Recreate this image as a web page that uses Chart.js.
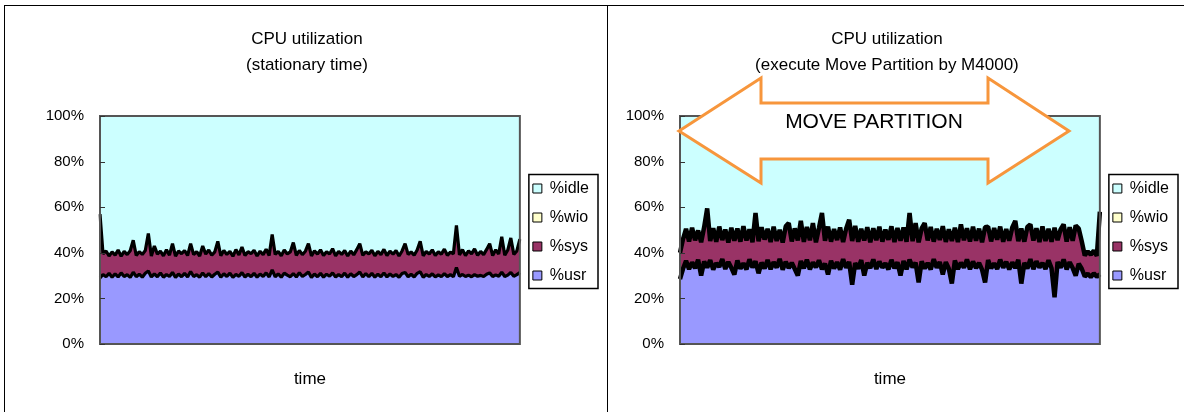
<!DOCTYPE html>
<html>
<head>
<meta charset="utf-8">
<script src="https://cdn.jsdelivr.net/npm/chart.js@4.4.0/dist/chart.umd.min.js"></script>
<style>
  body { margin: 0; background: #fff; width: 1184px; height: 412px; overflow: hidden; position: relative; }
  .frame { position: absolute; left: 4px; top: 5px; width: 1200px; height: 420px; border-top: 1px solid #000; border-left: 1px solid #000; }
  .divider { position: absolute; left: 607px; top: 5px; width: 1px; height: 420px; background: #000; }
  #left { position: absolute; left: 5px; top: 6px; }
  #right { position: absolute; left: 608px; top: 6px; }
</style>
</head>
<body>
<div class="frame"></div>
<div class="divider"></div>
<canvas id="left" width="602" height="406"></canvas>
<canvas id="right" width="576" height="406"></canvas>
<script>
// stationary time: %usr and %sys per sample (%wio stays at 0)
const usrL = [29,30.5,29.5,31,29.3,30.8,29.4,31.2,29.6,30.4,
  29.2,31.5,29.5,30.6,29.3,31,32,29.4,30.8,29.5,
  31.2,29.3,30.5,29.6,31.4,29.2,30.7,29.5,31,29.4,
  31.8,29.6,30.4,29.3,31.2,29.5,30.9,29.4,30.6,31.5,
  29.3,30.8,29.6,31.1,29.2,30.5,29.7,31.3,29.4,30.6,
  29.5,31,29.3,30.7,29.6,31.2,29.4,32.5,29.5,30.8,
  29.3,31.1,30.2,29.5,30.9,29.4,31.3,29.6,30.5,31.6,
  29.2,30.7,29.5,31,29.3,30.6,29.7,31.2,29.4,30.5,
  29.5,31.1,29.3,30.8,29.6,30.4,31.6,29.4,30.9,29.5,
  31,29.3,30.6,29.5,31.2,29.4,30.7,29.6,30.5,29.3,
  30.9,31.4,29.5,30.6,29.4,31,31.7,29.3,30.5,29.6,
  30.8,29.4,30.3,29.5,30.9,29.6,30.4,29.5,33.5,29.7,
  30.5,29.6,30.2,29.5,30.4,29.7,30.1,29.6,30.6,31.2,
  29.6,30.3,29.7,31.5,29.6,30.2,31.4,29.7,30.4,31.3]
const sysL = [28,9,11.3,7.6,11.1,8.2,11.8,7.3,11,8.8,
  11.7,14,9.3,9.9,10,10,16.5,9.2,12.2,9.9,
  9.5,9.4,10.8,9.4,12.6,9.3,10.1,10.1,10,9.4,
  12.2,9.6,10.1,9.3,11.8,9.9,10.3,9.5,9.8,13.5,
  9.4,10.2,9.7,9.5,9.3,10.9,9.4,11.2,9.4,9.9,
  10.1,10.1,9.3,10,9.6,10.4,9.4,15.5,9.8,9.8,
  9.4,10.1,9.3,10.9,13.6,9.5,9.7,9.6,10.2,12.4,
  9.4,10.2,9.9,10.3,9.5,9.9,9.8,10.6,9.3,10.1,
  9.8,9.9,9.3,10,9.5,11,12.4,9.5,9.6,10,
  10.1,9.4,10,9.7,10.3,9.4,10,9.8,10.5,9.3,
  9.9,12.6,9.8,9.8,9.5,10.2,13.3,9.4,10.1,9.9,
  10.5,9.4,10.2,9.9,10.7,9.3,9.9,10.1,18.5,9.4,
  10.9,9.2,10.7,10,11.3,9.2,10.5,9.6,10.9,12.8,
  9.2,11,9.8,15.5,9.3,11,15.1,9.6,10.4,14.7]

// during Move Partition
const usrR = [28.5,33,36.5,32.8,35.8,33.2,37,30,36.2,33.5,
  36.8,32.6,35.5,33.8,37.2,32.9,36,33.4,30.5,36.6,
  33,35.4,32.7,37.1,33.6,36.3,31,35.7,33.1,36.9,
  32.8,35.9,33.5,37.3,32.6,36.1,33.3,35.6,32.9,30,
  36.4,33.2,37,32.7,35.8,33.6,36.7,32.8,35.3,30.5,
  36.5,33.1,35.9,32.6,37.2,33.4,36,26,35.5,33,
  36.8,30,35.6,33.3,37.1,32.9,36.2,33.5,35.4,32.7,
  36.9,33.2,35.8,30,36.4,32.8,37,33.6,35.7,27,
  36.3,33.1,35.5,32.7,37.2,33.4,36,30.5,35.9,33,
  26.5,36.6,32.9,35.7,33.5,37.1,32.8,36.2,33.3,35.6,
  32.6,27,36.8,33.2,35.4,32.9,37,33.5,36.1,32.7,
  35.8,33.4,36.9,26.5,35.6,33.1,37.2,32.8,36.3,33.6,
  35.5,32.9,36.7,33.2,20.5,36,33.4,37.1,32.7,35.9,
  33.3,30,35.2,33,29.6,30.8,29.4,31,29.5,30.6]
const sysR = [11.5,13,14,12.2,15.2,12.3,12.8,14.6,15.1,26,
  8.4,18.2,9.3,17.7,8.4,17.3,8.5,17.6,14.8,14,
  11.9,16.3,12.7,13.2,11,21.2,14.1,15.5,12.7,13.6,
  11.9,15.5,11.7,12.8,11.9,15.5,19.7,9.4,17.8,15.4,
  17.6,11.6,14.3,12.8,17.2,11,14.2,24.7,10,21,
  8.4,17.3,9.7,18.5,7.5,17.2,18.5,19.2,16.3,11.8,
  13.7,15.4,15.6,11.3,13.7,12.6,15.2,11.4,14.8,13,
  14.7,11.5,15.1,15.3,14.7,12,20.5,11.5,17.3,17.6,
  14.4,19.9,9.9,18.6,7.7,17.1,9.6,21.2,8.9,17.3,
  18.7,14.4,11.8,16.8,12,13.7,12.1,15.2,12,15,
  12,24.2,14.7,11.8,15.5,12.8,14.5,11.3,14.3,12.6,
  15.3,20.6,8.2,24.2,9.3,18.2,15.3,12.6,14.5,11.1,
  16.1,12.3,13.8,11.6,30.5,9.5,16.9,15.4,12.2,15.3,
  12,22,15.4,12.1,9.2,9.8,9.8,9.9,9.2,27.4]

const titleL = ['CPU utilization', '(stationary time)']
const titleR = ['CPU utilization', '(execute Move Partition by M4000)']

const FONT = "'Liberation Sans', Arial, sans-serif"
Chart.defaults.font.family = FONT
Chart.defaults.color = '#000'

// plot frame around the chart area, with short tick marks on the inside
const framePlugin = {
  id: 'frame',
  afterDatasetsDraw(chart) {
    const {ctx, chartArea: a} = chart
    const y = chart.scales.y
    ctx.save()
    ctx.strokeStyle = '#555'
    ctx.lineWidth = 2
    ctx.strokeRect(a.left, a.top, a.right - a.left, a.bottom - a.top)
    ctx.strokeStyle = '#333'
    ctx.lineWidth = 1
    ctx.beginPath()
    y.ticks.forEach(t => {
      const py = Math.round(y.getPixelForValue(t.value)) + 0.5
      ctx.moveTo(a.left, py)
      ctx.lineTo(a.left + 5, py)
    })
    ctx.stroke()
    ctx.restore()
  }
}

// box round the legend, like the Excel legend
const legendBox = {
  id: 'legendBox',
  afterDraw(chart) {
    const hb = chart.legend.legendHitBoxes
    if (!hb || !hb.length) return
    const x0 = hb[0].left - 4
    const y0 = hb[0].top - 6
    const x1 = Math.max(...hb.map(h => h.left + h.width)) + 9
    const last = hb[hb.length - 1]
    const y1 = last.top + last.height + 5
    const ctx = chart.ctx
    ctx.save()
    ctx.strokeStyle = '#000'
    ctx.lineWidth = 1.5
    ctx.strokeRect(x0, y0, x1 - x0, y1 - y0)
    ctx.restore()
  }
}

// centre the title over the plot rather than the whole canvas
const titleCenter = {
  id: 'titleCenter',
  afterLayout(chart) {
    const t = chart.titleBlock
    if (t) {
      t.left = chart.chartArea.left - 6
      t.right = chart.chartArea.right
    }
  }
}

// orange double arrow with "MOVE PARTITION"
const arrowPlugin = {
  id: 'movePartition',
  afterDraw(chart) {
    const {ctx, chartArea: {left, top}} = chart
    const pts = [[-1, 15], [81, -38], [81, -13], [308, -13], [308, -38],
                 [389, 15], [308, 67], [308, 43], [81, 43], [81, 67]]
    ctx.save()
    ctx.beginPath()
    pts.forEach(([dx, dy], i) => i ? ctx.lineTo(left + dx, top + dy) : ctx.moveTo(left + dx, top + dy))
    ctx.closePath()
    ctx.fillStyle = '#fff'
    ctx.fill()
    ctx.lineWidth = 3
    ctx.strokeStyle = '#f7963c'
    ctx.stroke()
    ctx.fillStyle = '#000'
    ctx.font = '21px ' + FONT
    ctx.textAlign = 'center'
    ctx.textBaseline = 'middle'
    ctx.fillText('MOVE PARTITION', left + 194, top + 6)
    ctx.restore()
  }
}

const legendLabels = chart =>
  Chart.defaults.plugins.legend.labels.generateLabels(chart)
    .map(l => Object.assign(l, {lineWidth: 1, strokeStyle: '#000'}))

function makeChart(id, title, usr, sys, yWidth, padRight, lineW, extra) {
  // idle is whatever is left up to 100%
  const idle = usr.map((u, i) => 100 - u - sys[i])
  const line = {borderColor: '#000', borderWidth: lineW, borderJoinStyle: 'bevel'}
  return new Chart(document.getElementById(id), {
    type: 'line',
    data: {
      labels: usr.map((_, i) => i),
      datasets: [
        Object.assign({label: '%usr', data: usr, backgroundColor: '#9999ff', fill: 'origin'}, line),
        Object.assign({label: '%sys', data: sys, backgroundColor: '#993366', fill: '-1'}, line),
        {label: '%wio', data: [], backgroundColor: '#ffffcc', borderColor: '#000', borderWidth: 1, fill: false},
        {label: '%idle', data: idle, backgroundColor: '#ccffff', borderColor: '#000', borderWidth: 0, fill: 1}
      ]
    },
    options: {
      responsive: false,
      animation: false,
      layout: {padding: {left: 0, right: padRight, top: 0, bottom: 0}},
      elements: {point: {radius: 0}, line: {tension: 0}},
      plugins: {
        title: {
          display: true, text: title, color: '#000',
          font: {size: 17, weight: 'normal', lineHeight: 1.5},
          padding: {top: 21, bottom: 38}
        },
        legend: {
          position: 'right', reverse: true,
          // empty legend title only pushes the items down to sit beside the plot middle
          title: {display: true, text: '', font: {size: 10, lineHeight: 1}, padding: {top: 18, bottom: 18}},
          labels: {boxWidth: 9, boxHeight: 9, padding: 13, color: '#000', font: {size: 16}, generateLabels: legendLabels}
        },
        tooltip: {enabled: false}
      },
      scales: {
        x: {
          grid: {display: false},
          ticks: {display: false},
          border: {display: false},
          title: {display: true, text: 'time', color: '#000', font: {size: 17}, padding: {top: 0, bottom: 22}},
          afterFit: s => { s.height = 68 }
        },
        y: {
          stacked: true, min: 0, max: 100,
          ticks: {stepSize: 20, color: '#000', font: {size: 15}, padding: 16, callback: v => v + '%'},
          grid: {drawOnChartArea: false, drawTicks: false},
          border: {display: false},
          afterFit: s => { s.width = yWidth }
        }
      }
    },
    plugins: [framePlugin, legendBox, titleCenter].concat(extra)
  })
}

makeChart('left', titleL, usrL, sysL, 95, 8, 3.2, [])
makeChart('right', titleR, usrR, sysR, 72, 5, 4.5, [arrowPlugin])
</script>
</body>
</html>
